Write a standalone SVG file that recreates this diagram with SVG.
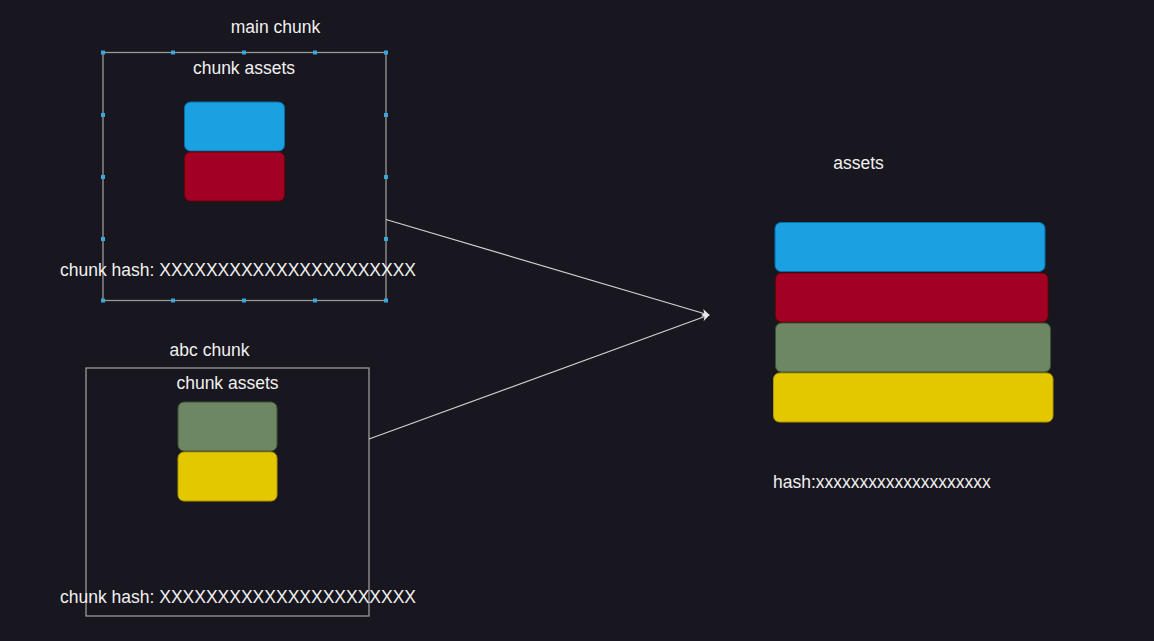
<svg xmlns="http://www.w3.org/2000/svg" width="1154" height="641" viewBox="0 0 1154 641">
<style>
text{font-family:"Liberation Sans",Arial,sans-serif;font-size:17.5px;fill:#f0f0f0}
.mid{text-anchor:middle}
.frame{fill:none;stroke:#9a9a9a;stroke-width:1.3}
.h{fill:#3aa6e0}
.blue{fill:#1ba1e2;stroke:#006eaf}
.red{fill:#a20025;stroke:#6f0000}
.green{fill:#6d8764;stroke:#3a5431}
.yellow{fill:#e3c800;stroke:#b09500}
.conn{fill:none;stroke:#d0d0d0;stroke-width:1.2}
</style>
<defs>
<marker id="arr" viewBox="0 0 10 10" refX="9" refY="5" markerWidth="8" markerHeight="8" markerUnits="userSpaceOnUse" orient="auto">
<path d="M0,0 L10,5 L0,10 L3,5 Z" fill="#e8e8e8"/>
</marker>
</defs>
<rect x="0" y="0" width="1154" height="641" fill="#18161e"/>
<g id="main-chunk">
<text class="mid" x="275.5" y="33">main chunk</text>
<rect class="frame" x="103" y="52.5" width="283" height="248"/>
<g class="h">
<rect x="101" y="50.5" width="4" height="4"/><rect x="171" y="50.5" width="4" height="4"/><rect x="242" y="50.5" width="4" height="4"/><rect x="313" y="50.5" width="4" height="4"/><rect x="384" y="50.5" width="4" height="4"/>
<rect x="101" y="298.5" width="4" height="4"/><rect x="171" y="298.5" width="4" height="4"/><rect x="242" y="298.5" width="4" height="4"/><rect x="313" y="298.5" width="4" height="4"/><rect x="384" y="298.5" width="4" height="4"/>
<rect x="101" y="113" width="4" height="4"/><rect x="101" y="175" width="4" height="4"/><rect x="101" y="237" width="4" height="4"/>
<rect x="384" y="113" width="4" height="4"/><rect x="384" y="175" width="4" height="4"/><rect x="384" y="237" width="4" height="4"/>
</g>
<text class="mid" x="244" y="74">chunk assets</text>
<rect class="blue" x="184.5" y="102" width="100" height="49" rx="6"/>
<rect class="red" x="184.5" y="152" width="100" height="49" rx="6"/>
<text x="60" y="276">chunk hash: XXXXXXXXXXXXXXXXXXXXXX</text>
</g>
<g id="abc-chunk">
<text class="mid" x="209.5" y="356">abc chunk</text>
<rect class="frame" x="86" y="368" width="283" height="248"/>
<text class="mid" x="227.5" y="389">chunk assets</text>
<rect class="green" x="178" y="402" width="99" height="49" rx="6"/>
<rect class="yellow" x="178" y="452" width="99" height="49" rx="6"/>
<text x="60" y="603">chunk hash: XXXXXXXXXXXXXXXXXXXXXX</text>
</g>
<g id="assets">
<text class="mid" x="858.5" y="169">assets</text>
<rect class="blue" x="775" y="222.5" width="270" height="49" rx="6"/>
<rect class="red" x="775.5" y="273" width="272.5" height="49" rx="6"/>
<rect class="green" x="775.5" y="323" width="275" height="49" rx="6"/>
<rect class="yellow" x="773.5" y="373" width="279.5" height="49" rx="6"/>
<text x="773" y="488">hash:xxxxxxxxxxxxxxxxxxxx</text>
</g>
<g id="connectors">
<line class="conn" x1="386" y1="219.5" x2="709" y2="315" marker-end="url(#arr)"/>
<line class="conn" x1="369" y1="439" x2="709" y2="315" marker-end="url(#arr)"/>
</g>
</svg>
